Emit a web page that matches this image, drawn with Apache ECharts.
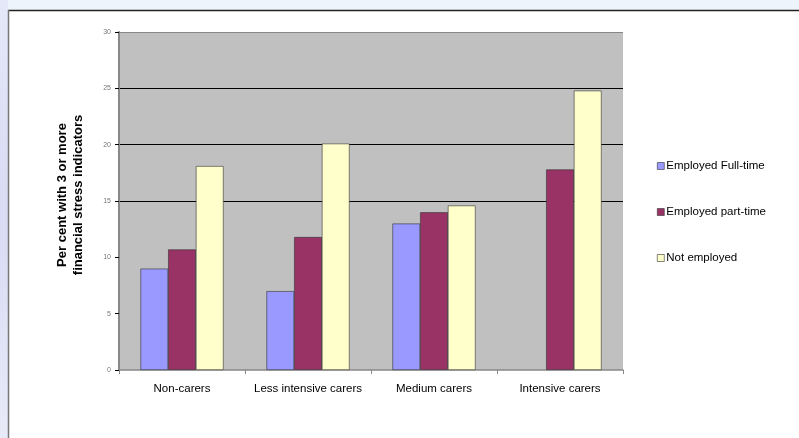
<!DOCTYPE html>
<html>
<head>
<meta charset="utf-8">
<script src="https://cdn.jsdelivr.net/npm/echarts@6/dist/echarts.min.js"></script>
<style>
html,body{margin:0;padding:0;background:#fff;}
#c{width:799px;height:438px;}
</style>
</head>
<body>
<div id="c"></div>
<script>
const categories = ['Non-carers', 'Less intensive carers', 'Medium carers', 'Intensive carers'];
const seriesNames = ['Employed Full-time', 'Employed part-time', 'Not employed'];
const fullTime = [9.0, 7.0, 13.0, null];
const partTime = [10.7, 11.8, 14.0, 17.8];
const notEmployed = [18.1, 20.1, 14.6, 24.8];
const yTicks = [0, 5, 10, 15, 20, 25, 30];

const colors = ['#9999FF', '#993366', '#FFFFCC'];
const chart = echarts.init(document.getElementById('c'), null, {renderer: 'canvas'});

const barStyle = (c) => ({color: c, borderColor: '#333', borderWidth: 0.6});

chart.setOption({
  animation: false,
  backgroundColor: '#ffffff',
  graphic: [
    {type: 'rect', shape: {x: 0, y: 0, width: 799, height: 10}, style: {fill: '#EEF4FC'}, z: -10},
    {type: 'rect', shape: {x: 0, y: 0, width: 8, height: 438},
      style: {fill: new echarts.graphic.LinearGradient(0, 0, 0, 1, [{offset: 0, color: '#E4E8F8'}, {offset: 0.5, color: '#D8DCF4'}, {offset: 1, color: '#E8EAF8'}])}, z: -10},
    {type: 'line', shape: {x1: 8, y1: 10.5, x2: 799, y2: 10.5}, style: {stroke: '#222', lineWidth: 1.5}, z: -5},
    {type: 'line', shape: {x1: 8.5, y1: 10, x2: 8.5, y2: 438}, style: {stroke: '#777', lineWidth: 1.5}, z: -5}
  ],
  grid: {left: 119, top: 32, width: 504, height: 338, backgroundColor: '#C0C0C0', show: true, borderWidth: 0},
  legend: {
    orient: 'vertical',
    left: 652,
    top: 155,
    itemGap: 34,
    itemWidth: 7,
    itemHeight: 7,
    icon: 'rect',
    data: seriesNames,
    textStyle: {fontFamily: 'Liberation Sans, Arial', fontSize: 11.5, color: '#000', padding: [0, 0, 0, -3]},
    itemStyle: {borderColor: '#333', borderWidth: 0.6}
  },
  xAxis: {
    type: 'category',
    data: categories,
    axisLine: {show: true, lineStyle: {color: '#888', width: 1.5}},
    axisTick: {show: true, interval: 0, alignWithLabel: false, length: 4, lineStyle: {color: '#888'}},
    axisLabel: {interval: 0, fontFamily: 'Liberation Sans, Arial', fontSize: 11.5, color: '#000', margin: 13}
  },
  yAxis: {
    type: 'value',
    min: 0,
    max: 30,
    interval: 5,
    name: 'Per cent with 3 or more\nfinancial stress indicators',
    nameLocation: 'middle',
    nameGap: 33,
    nameTextStyle: {fontFamily: 'Liberation Sans, Arial', fontSize: 13, fontWeight: 'bold', color: '#000', lineHeight: 16, padding: [0, 0, 0, 12]},
    axisLine: {show: true, lineStyle: {color: '#888', width: 2}},
    axisTick: {show: true, length: 4, lineStyle: {color: '#000'}},
    axisLabel: {fontFamily: 'Liberation Sans, Arial', fontSize: 7, color: '#777', margin: 8,
      formatter: (v) => yTicks.includes(v) ? String(v) : ''},
    splitLine: {show: true, lineStyle: {color: ['transparent', 'transparent', 'transparent', '#000', '#000', '#000', '#888'], width: 1.2}}
  },
  series: [
    {name: seriesNames[0], type: 'bar', data: fullTime, barGap: '0%', barCategoryGap: '34%', itemStyle: barStyle(colors[0])},
    {name: seriesNames[1], type: 'bar', data: partTime, itemStyle: barStyle(colors[1])},
    {name: seriesNames[2], type: 'bar', data: notEmployed, itemStyle: barStyle(colors[2])}
  ]
});
</script>
</body>
</html>
